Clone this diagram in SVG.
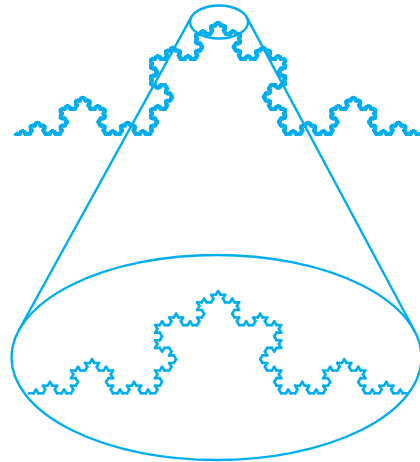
<svg xmlns="http://www.w3.org/2000/svg" xmlns:xlink="http://www.w3.org/1999/xlink" width="420" height="462" viewBox="0 0 420 462">
<style>
.k{fill:none;stroke:#00aeef;stroke-linecap:round;stroke-linejoin:round}
.seg{vector-effect:non-scaling-stroke}
.o{fill:none;stroke:#00aeef;stroke-width:2.4}
</style>
<defs>
<path id="k0" class="seg" d="M0,0H1000"/>
<g id="k1"><use xlink:href="#k0" transform="scale(0.333333)"/><use xlink:href="#k0" transform="translate(333.333,0) rotate(-60) scale(0.333333)"/><use xlink:href="#k0" transform="translate(500,-288.675) rotate(60) scale(0.333333)"/><use xlink:href="#k0" transform="translate(666.667,0) scale(0.333333)"/></g>
<g id="k2"><use xlink:href="#k1" transform="scale(0.333333)"/><use xlink:href="#k1" transform="translate(333.333,0) rotate(-60) scale(0.333333)"/><use xlink:href="#k1" transform="translate(500,-288.675) rotate(60) scale(0.333333)"/><use xlink:href="#k1" transform="translate(666.667,0) scale(0.333333)"/></g>
<g id="k3"><use xlink:href="#k2" transform="scale(0.333333)"/><use xlink:href="#k2" transform="translate(333.333,0) rotate(-60) scale(0.333333)"/><use xlink:href="#k2" transform="translate(500,-288.675) rotate(60) scale(0.333333)"/><use xlink:href="#k2" transform="translate(666.667,0) scale(0.333333)"/></g>
<g id="k4"><use xlink:href="#k3" transform="scale(0.333333)"/><use xlink:href="#k3" transform="translate(333.333,0) rotate(-60) scale(0.333333)"/><use xlink:href="#k3" transform="translate(500,-288.675) rotate(60) scale(0.333333)"/><use xlink:href="#k3" transform="translate(666.667,0) scale(0.333333)"/></g>
<g id="k5"><use xlink:href="#k4" transform="scale(0.333333)"/><use xlink:href="#k4" transform="translate(333.333,0) rotate(-60) scale(0.333333)"/><use xlink:href="#k4" transform="translate(500,-288.675) rotate(60) scale(0.333333)"/><use xlink:href="#k4" transform="translate(666.667,0) scale(0.333333)"/></g>
<g id="k6"><use xlink:href="#k5" transform="scale(0.333333)"/><use xlink:href="#k5" transform="translate(333.333,0) rotate(-60) scale(0.333333)"/><use xlink:href="#k5" transform="translate(500,-288.675) rotate(60) scale(0.333333)"/><use xlink:href="#k5" transform="translate(666.667,0) scale(0.333333)"/></g>
</defs>
<rect width="420" height="462" fill="#ffffff"/>
<g id="top-curve" class="k" style="stroke-width:2.6">
<use xlink:href="#k6" transform="translate(15,134.5) scale(0.406,0.3897)"/>
</g>
<g id="zoom-ellipse"><ellipse class="o" cx="219" cy="22" rx="29" ry="16.5"/></g>
<g id="connectors">
<line class="o" x1="191.3" y1="17.1" x2="18.7" y2="330.5"/>
<line class="o" x1="246.7" y1="17.1" x2="414.3" y2="330.5"/>
</g>
<g id="detail-ellipse"><ellipse class="o" cx="216.5" cy="357.5" rx="205" ry="102.5"/></g>
<g id="detail-curve" class="k" style="stroke-width:2.6">
<use xlink:href="#k4" transform="translate(29,393.3) scale(0.3783,0.3544)"/>
</g>
</svg>
